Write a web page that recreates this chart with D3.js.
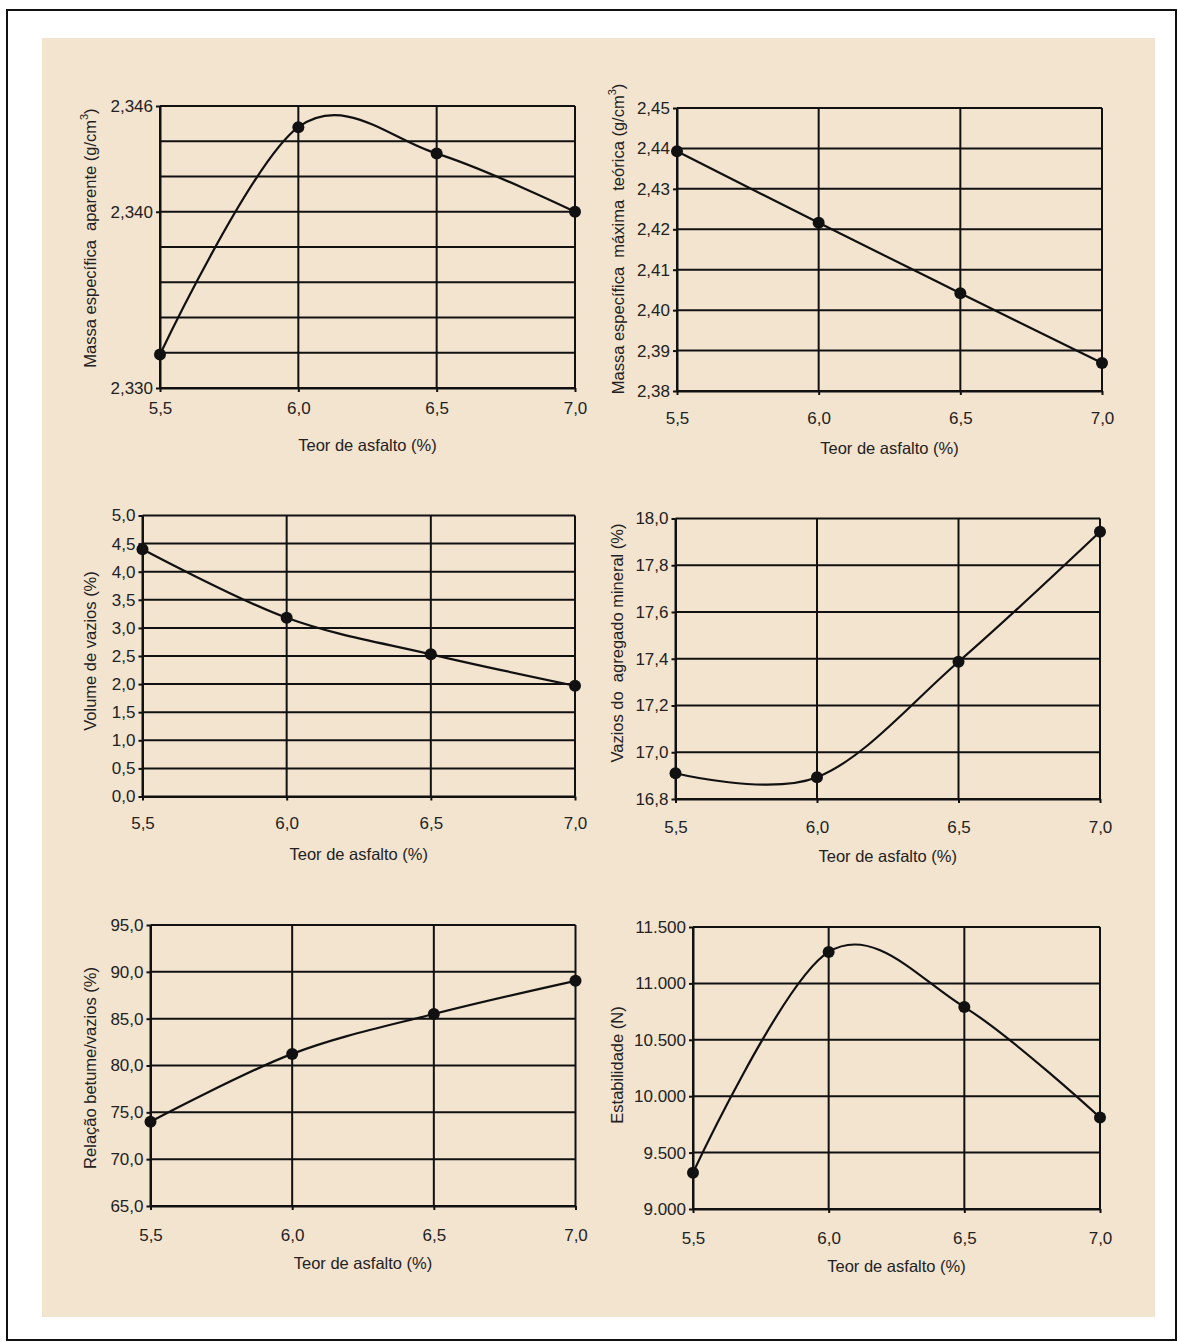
<html>
<head>
<meta charset="utf-8">
<script src="https://d3js.org/d3.v7.min.js"></script>
<style>
body { margin: 0; background: #fff; }
.tick text { font-family: "Liberation Sans", Arial, sans-serif; font-size: 17px; fill: #222; }
.title { font-family: "Liberation Sans", Arial, sans-serif; font-size: 16.5px; fill: #222; white-space: pre; }
.grid { stroke: #111; stroke-width: 2px; }
.curve { fill: none; stroke: #111; stroke-width: 2.2px; }
</style>
</head>
<body>
<svg id="chart" width="1178" height="1342"></svg>
<script>
// teor de asfalto (%) - same x values for all six plots
var teor = [5.5, 6.0, 6.5, 7.0];

// series
var massaAparente = [2.3319, 2.3448, 2.3433, 2.3400];
var massaMaxima = [2.4393, 2.4216, 2.4042, 2.3869];
var volumeVazios = [4.40, 3.18, 2.53, 1.97];
var vazAgregado = [16.91, 16.893, 17.387, 17.943];
var relBetume = [74.0, 81.24, 85.5, 89.04];
var estabilidade = [9322, 11279, 10790, 9811];

// y gridlines and labelled ticks
var gridAparente = [2.330, 2.332, 2.334, 2.336, 2.338, 2.340, 2.342, 2.344, 2.346];
var labAparente = [2.330, 2.340, 2.346];
var gridMaxima = [2.38, 2.39, 2.40, 2.41, 2.42, 2.43, 2.44, 2.45];
var gridVazios = [0, 0.5, 1, 1.5, 2, 2.5, 3, 3.5, 4, 4.5, 5];
var gridAgregado = [16.8, 17.0, 17.2, 17.4, 17.6, 17.8, 18.0];
var gridBetume = [65, 70, 75, 80, 85, 90, 95];
var gridEstab = [9000, 9500, 10000, 10500, 11000, 11500];

var xTitle = "Teor de asfalto (%)";

var comma = function(n) { return function(v) { return v.toFixed(n).replace(".", ","); }; };
var thousands = function(v) { return d3.format(",")(v).replace(/,/g, "."); };

var chart = d3.select("#chart");

// page frame
chart.append("rect").attr("x", 7).attr("y", 10).attr("width", 1169).attr("height", 1330)
  .attr("fill", "#fff").attr("stroke", "#111").attr("stroke-width", 2);
chart.append("rect").attr("x", 42).attr("y", 38).attr("width", 1113).attr("height", 1279)
  .attr("fill", "#f3e4d0");

var panels = [
  {y: massaAparente, grid: gridAparente, labels: labAparente, fmt: comma(3),
   title: ["Massa específica  aparente (g/cm", "3", ")"],
   l: 160, r: 575, t: 106, b: 388, dy: 20, tx: 90, ty: 238},
  {y: massaMaxima, grid: gridMaxima, labels: gridMaxima, fmt: comma(2),
   title: ["Massa específica  máxima  teórica (g/cm", "3", ")"],
   l: 677, r: 1102, t: 108, b: 391, dy: 27, tx: 618, ty: 239},
  {y: volumeVazios, grid: gridVazios, labels: gridVazios, fmt: comma(1),
   title: ["Volume de vazios (%)"],
   l: 142.5, r: 575, t: 515.5, b: 796.5, dy: 27, tx: 90, ty: 651},
  {y: vazAgregado, grid: gridAgregado, labels: gridAgregado, fmt: comma(1),
   title: ["Vazios do  agregado mineral (%)"],
   l: 675.5, r: 1100, t: 518.5, b: 799, dy: 28, tx: 617, ty: 643},
  {y: relBetume, grid: gridBetume, labels: gridBetume, fmt: comma(1),
   title: ["Relação betume/vazios (%)"],
   l: 150.5, r: 575.5, t: 925, b: 1206, dy: 29, tx: 90, ty: 1068},
  {y: estabilidade, grid: gridEstab, labels: gridEstab, fmt: thousands,
   title: ["Estabilidade (N)"],
   l: 693, r: 1100, t: 927, b: 1209, dy: 29, tx: 617, ty: 1065}
];

panels.forEach(function(p) {
  var x = d3.scaleLinear().domain([teor[0], teor[teor.length - 1]]).range([p.l, p.r]);
  var y = d3.scaleLinear().domain([p.grid[0], p.grid[p.grid.length - 1]]).range([p.b, p.t]);
  var g = chart.append("g");

  // grid
  g.selectAll(".hgrid").data(p.grid).enter().append("line")
    .attr("class", "grid")
    .attr("x1", p.l).attr("x2", p.r)
    .attr("y1", function(d) { return y(d); }).attr("y2", function(d) { return y(d); });
  g.selectAll(".vgrid").data(teor).enter().append("line")
    .attr("class", "grid")
    .attr("x1", function(d) { return x(d); }).attr("x2", function(d) { return x(d); })
    .attr("y1", p.t).attr("y2", p.b);

  // axes
  var ax = g.append("g").attr("transform", "translate(0," + p.b + ")")
    .call(d3.axisBottom(x).tickValues(teor).tickFormat(comma(1)).tickSize(4).tickSizeOuter(0));
  ax.selectAll("text").attr("y", p.dy).attr("dy", "0.35em");
  var ay = g.append("g").attr("transform", "translate(" + p.l + ",0)")
    .call(d3.axisLeft(y).tickValues(p.labels).tickFormat(p.fmt).tickSize(4).tickPadding(3).tickSizeOuter(0));
  [ax, ay].forEach(function(a) {
    a.select(".domain").attr("stroke", "#111").attr("stroke-width", 2);
    a.selectAll(".tick line").attr("stroke", "#111").attr("stroke-width", 2);
  });

  // curve and points
  var line = d3.line().curve(d3.curveCardinal)
    .x(function(d) { return x(d[0]); })
    .y(function(d) { return y(d[1]); });
  var pts = teor.map(function(t, i) { return [t, p.y[i]]; });
  g.append("path").datum(pts).attr("class", "curve").attr("d", line);
  g.selectAll(".dot").data(pts).enter().append("circle")
    .attr("cx", function(d) { return x(d[0]); })
    .attr("cy", function(d) { return y(d[1]); })
    .attr("r", 6).attr("fill", "#111");

  // titles
  g.append("text").attr("class", "title")
    .attr("x", (p.l + p.r) / 2).attr("y", p.b + 57)
    .attr("text-anchor", "middle").attr("dominant-baseline", "central")
    .text(xTitle);
  var yt = g.append("text").attr("class", "title")
    .attr("transform", "translate(" + p.tx + "," + p.ty + ") rotate(-90)")
    .attr("text-anchor", "middle").attr("dominant-baseline", "central");
  yt.append("tspan").text(p.title[0]);
  if (p.title.length > 1) {
    yt.append("tspan").attr("font-size", "11px").attr("dy", "-6").text(p.title[1]);
    yt.append("tspan").attr("dy", "6").text(p.title[2]);
  }
});
</script>
</body>
</html>
